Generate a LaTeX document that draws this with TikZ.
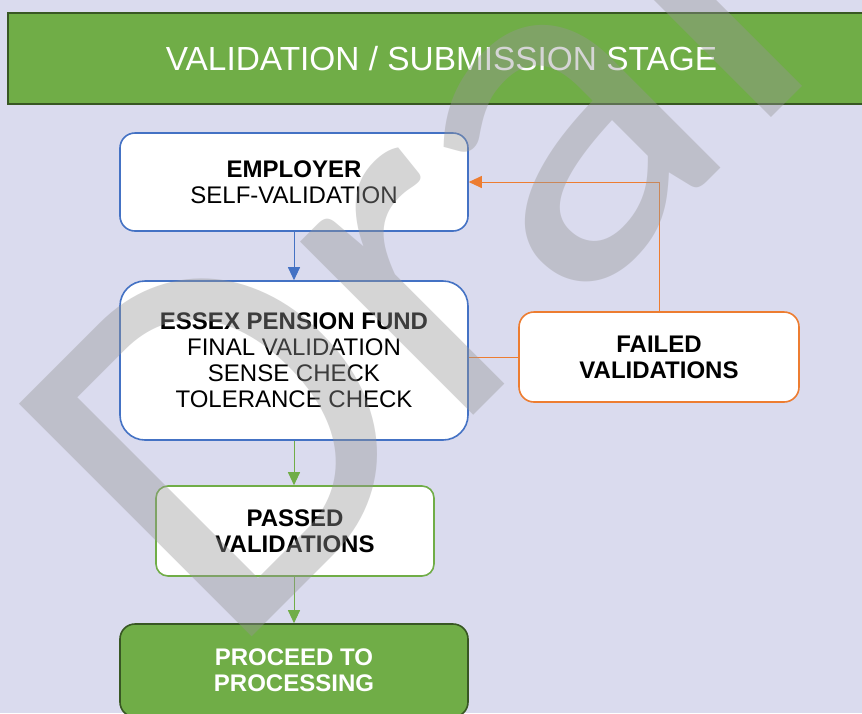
\documentclass[tikz,border=0pt]{standalone}
\usepackage{fontspec}
\setmainfont{Liberation Sans}
\newfontfamily\wmfont{Carlito}
\usetikzlibrary{arrows.meta}
\definecolor{bg}{RGB}{218,219,238}
\definecolor{hdrgreen}{RGB}{112,173,71}
\definecolor{darkgreen}{RGB}{56,87,35}
\definecolor{boxblue}{RGB}{68,114,196}
\definecolor{boxorange}{RGB}{237,125,49}
\definecolor{wmgray}{RGB}{150,150,150}
\tikzset{
  box/.style={draw, line width=1.6pt, fill=white, align=center, inner sep=0pt,
    font=\fontsize{24}{26}\selectfont, text=black},
  bluebox/.style={box, draw=boxblue},
  greenfill/.style={box, draw=darkgreen, fill=hdrgreen, text=white},
  conn/.style={line width=1pt, -{Triangle[length=13pt,width=12pt]}},
}
\begin{document}
\begin{tikzpicture}[x=1pt,y=-1pt]
\useasboundingbox (0,0) rectangle (862,713);
\clip (0,0) rectangle (862,713);
\fill[bg] (0,0) rectangle (862,713);
% header
\node[draw=darkgreen, line width=1.6pt, fill=hdrgreen, minimum width=867pt, minimum height=91pt,
  inner sep=0pt, text=white, font=\fontsize{33.4}{36}\selectfont] (hdr) at (441.5,58.5)
  {VALIDATION / SUBMISSION STAGE};
% boxes
\node[bluebox, rounded corners=15pt, minimum width=348pt, minimum height=98pt] (emp) at (294,182)
  {\textbf{EMPLOYER}\\SELF-VALIDATION};
\node[bluebox, rounded corners=25pt, minimum width=348pt, minimum height=159pt] (epf) at (294,360.5)
  {\textbf{ESSEX PENSION FUND}\\FINAL VALIDATION\\SENSE CHECK\\TOLERANCE CHECK};
\node[box, draw=boxorange, rounded corners=15pt, minimum width=280pt, minimum height=90pt] (fail) at (659,357)
  {\textbf{FAILED}\\\textbf{VALIDATIONS}};
\node[box, draw=hdrgreen, rounded corners=12pt, minimum width=278pt, minimum height=90pt] (pass) at (295,531)
  {\textbf{PASSED}\\\textbf{VALIDATIONS}};
\node[greenfill, rounded corners=15pt, minimum width=348pt, minimum height=93pt] (proc) at (294,670.5)
  {\textbf{PROCEED TO}\\\textbf{PROCESSING}};
% connectors
\draw[conn, boxblue] (emp.south) -- (epf.north);
\draw[conn, hdrgreen] (epf.south) -- (epf.south |- pass.north);
\draw[conn, hdrgreen] (pass.south -| proc.north) -- (proc.north);
\draw[line width=1pt, boxorange] (fail.west -| epf.east) -- (fail.west);
\draw[conn, boxorange] (fail.north) |- (emp.east);
% watermark
\node[rotate=45, anchor=base west, inner sep=0pt, text=wmgray, text opacity=0.4,
  font=\wmfont\fontsize{513}{513}\selectfont] (wm) at (227,662) {Draft};
\end{tikzpicture}
\end{document}
